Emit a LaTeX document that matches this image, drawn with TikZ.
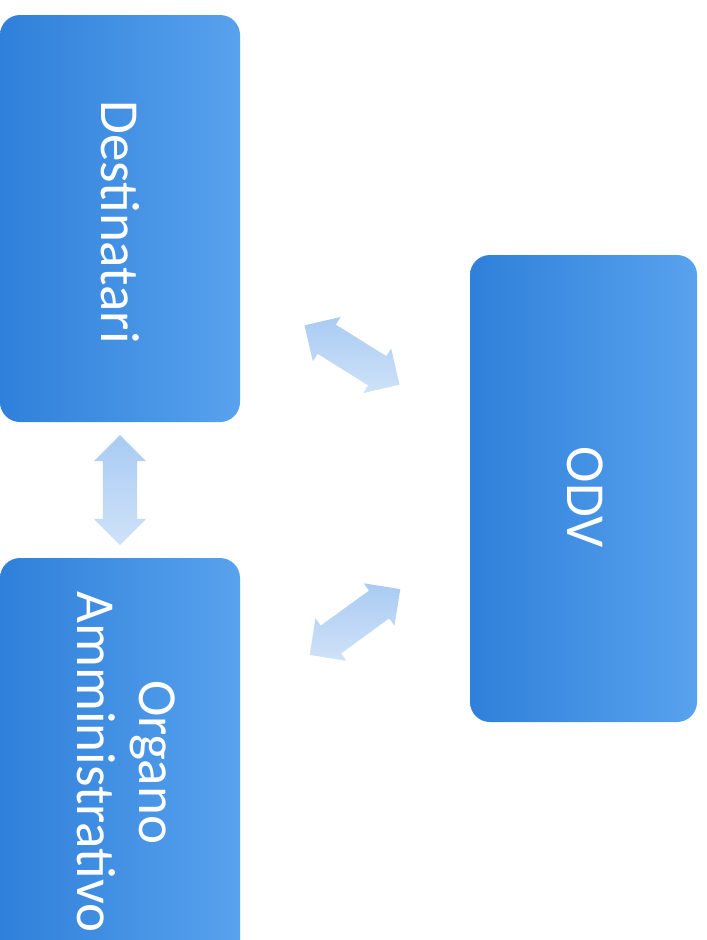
\documentclass[tikz,border=0pt]{standalone}
\usepackage{fontspec}
\setmainfont{Carlito}
\usetikzlibrary{shapes.arrows}
\definecolor{boxL}{HTML}{2F80DA}
\definecolor{boxR}{HTML}{58A2EE}
\definecolor{arrL}{HTML}{A9CBF3}
\definecolor{arrR}{HTML}{CFE2F8}
\tikzset{
  bluebox/.style={rounded corners=20pt, left color=boxL, right color=boxR, draw=none},
  boxtext/.style={text=white, font=\fontsize{55}{62}\selectfont, rotate=-90, align=center},
  dblarrow/.style={double arrow, draw=none, left color=arrL, right color=arrR, shading angle=0,
    minimum height=112pt, minimum width=0pt, double arrow head extend=9pt,
    inner xsep=0pt, inner ysep=17pt},
}
\begin{document}
\begin{tikzpicture}[x=1pt,y=1pt]
\useasboundingbox[fill=white] (0,0) rectangle (707,-940);
% boxes
\path[bluebox] (0,-15) rectangle (240,-422);
\path[bluebox] (0,-558) rectangle (240,-960);
\path[bluebox] (470,-255) rectangle (697,-722);
\node[boxtext] (dest) at (120,-222) {Destinatari};
\node[boxtext] (org) at (126,-762) {Organo\\Amministrativo};
\node[boxtext] (odv) at (585,-497) {ODV};
% arrows
\node[dblarrow, rotate=-90, minimum height=110pt] (a1) at (120,-490) {};
\node[dblarrow, rotate=-32] (a2) at (352,-355) {};
\node[dblarrow, rotate=36] (a3) at (355,-622) {};
\end{tikzpicture}
\end{document}
